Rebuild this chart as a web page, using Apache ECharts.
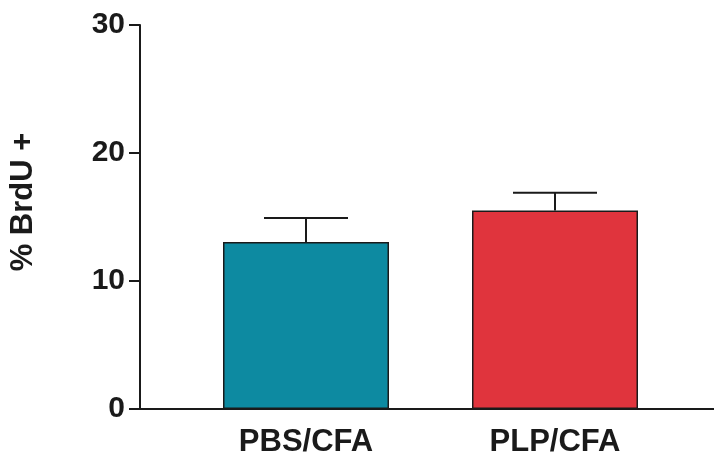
<!DOCTYPE html>
<html>
<head>
<meta charset="utf-8">
<script src="https://cdn.jsdelivr.net/npm/echarts@6/dist/echarts.min.js"></script>
<style>
html,body{margin:0;padding:0;background:#fff;}
#chart{width:714px;height:461px;}
</style>
</head>
<body>
<div id="chart"></div>
<script>
const categories = ['PBS/CFA', 'PLP/CFA'];
const means = [13.05, 15.5];
const errorsUp = [1.87, 1.4];
const barColors = ['#0d8aa1', '#e0343d'];
const yTicks = [0, 10, 20, 30];
const yTitle = '% BrdU +';

const FONT = '"Liberation Sans", Arial, Helvetica, sans-serif';
const chart = echarts.init(document.getElementById('chart'));

const option = {
  animation: false,
  backgroundColor: '#ffffff',
  grid: [
    { left: 140, right: 0, top: 25, bottom: 52 },
    { left: 181.5, right: 34.5, top: 25, bottom: 52 }
  ],
  xAxis: [
    {
      gridIndex: 0, type: 'category', data: ['', ''],
      axisLine: { show: true, lineStyle: { color: '#1a1a1a', width: 2 } },
      axisTick: { show: false }, axisLabel: { show: false }, splitLine: { show: false }
    },
    {
      gridIndex: 1, type: 'category', data: categories,
      axisLine: { show: false }, axisTick: { show: false },
      axisLabel: { margin: 18, color: '#1a1a1a', fontFamily: FONT, fontWeight: 'bold', fontSize: 31 },
      splitLine: { show: false }
    }
  ],
  yAxis: [
    {
      gridIndex: 0, type: 'value', min: yTicks[0], max: yTicks[yTicks.length - 1], interval: 10,
      axisLine: { show: true, lineStyle: { color: '#1a1a1a', width: 2 } },
      axisTick: { show: true, length: 11, lineStyle: { color: '#1a1a1a', width: 2 } },
      axisLabel: { margin: 15, color: '#1a1a1a', fontFamily: FONT, fontWeight: 'bold', fontSize: 30 },
      splitLine: { show: false }
    },
    {
      gridIndex: 1, type: 'value', min: yTicks[0], max: yTicks[yTicks.length - 1], interval: 10,
      show: false, splitLine: { show: false }
    }
  ],
  graphic: [
    {
      type: 'text', x: 23, y: 202, rotation: Math.PI / 2,
      style: {
        text: yTitle, fill: '#1a1a1a', font: 'bold 31px ' + FONT,
        textAlign: 'center', textVerticalAlign: 'middle'
      }
    }
  ],
  series: [
    {
      type: 'bar', xAxisIndex: 1, yAxisIndex: 1, barWidth: 166,
      data: means.map((v, i) => ({
        value: v,
        itemStyle: { color: barColors[i], borderColor: '#1a1a1a', borderWidth: 1.5 }
      })),
      z: 2
    },
    {
      type: 'custom', xAxisIndex: 1, yAxisIndex: 1, z: 3,
      data: means.map((v, i) => [i, v, v + errorsUp[i]]),
      renderItem: function (params, api) {
        const base = api.coord([api.value(0), api.value(1)]);
        const top = api.coord([api.value(0), api.value(2)]);
        const half = 42;
        const style = { stroke: '#1a1a1a', lineWidth: 2 };
        return {
          type: 'group',
          children: [
            { type: 'line', shape: { x1: base[0], y1: base[1], x2: top[0], y2: top[1] }, style: style },
            { type: 'line', shape: { x1: top[0] - half, y1: top[1], x2: top[0] + half, y2: top[1] }, style: style }
          ]
        };
      }
    }
  ]
};
chart.setOption(option);
</script>
</body>
</html>
